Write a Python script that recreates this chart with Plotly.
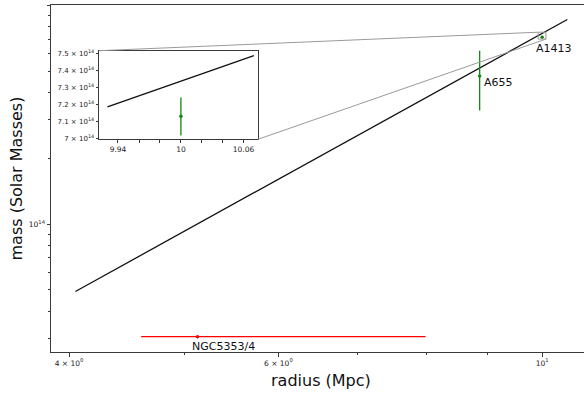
import math
import plotly.graph_objects as go

# ---------------- data ----------------
model_r = [4.05, 10.5]               # Mpc
model_m = [4.92e13, 8.6e14]          # solar masses
inset_model_r = [9.93, 10.07]
inset_model_m = [7.185e14, 7.49e14]

cluster_names = ["A1413", "A655", "NGC5353/4"]
cluster_r = [10.0, 8.86, 5.13]
cluster_m = [7.13e14, 4.74e14, 3.06e13]
cluster_m_err = [1.1e13, 1.44e14, 0.0]
cluster_r_err_plus = [0.0, 0.0, 2.85]
cluster_r_err_minus = [0.0, 0.0, 0.53]
cluster_colors = ["#108a10", "#108a10", "#ff0000"]

x_tick_vals = [4, 6, 10]
x_tick_text = ["4 × 10<sup>0</sup>", "6 × 10<sup>0</sup>", "10<sup>1</sup>"]
x_minor_vals = [5, 7, 8, 9]
y_tick_vals = [1e14, 1e15]
y_tick_text = ["10<sup>14</sup>", "10<sup>15</sup>"]
y_minor_vals = [3e13, 4e13, 5e13, 6e13, 7e13, 8e13, 9e13,
                2e14, 3e14, 4e14, 5e14, 6e14, 7e14, 8e14, 9e14]

inset_x_tick_vals = [9.94, 10.0, 10.06]
inset_x_tick_text = ["9.94", "10", "10.06"]
inset_x_minor_vals = [9.96, 9.98, 10.02, 10.04]
inset_y_tick_vals = [7.0e14, 7.1e14, 7.2e14, 7.3e14, 7.4e14, 7.5e14]
inset_y_tick_text = ["7 × 10<sup>14</sup>", "7.1 × 10<sup>14</sup>", "7.2 × 10<sup>14</sup>",
                     "7.3 × 10<sup>14</sup>", "7.4 × 10<sup>14</sup>", "7.5 × 10<sup>14</sup>"]

# ---------------- layout constants ----------------
W, H = 584, 394
ML, MR, MT, MB = 51, 0, 5, 42
main_xrange = [0.58692, 1.03520]      # log10
main_yrange = [13.4155, 15.0005]      # log10
zoom_r = [9.922, 10.074]
zoom_m = [6.998e14, 7.52e14]
inset_xdom = [0.0901, 0.3884]
inset_ydom = [0.613, 0.8683]

AX = "#3a3a3a"
FONT = "DejaVu Sans"

fig = go.Figure()

# main model line
fig.add_trace(go.Scatter(x=model_r, y=model_m, mode="lines",
                         line=dict(color="#111111", width=1.3),
                         xaxis="x", yaxis="y", showlegend=False))

# clusters on main axes
for i in range(len(cluster_names)):
    tr = dict(x=[cluster_r[i]], y=[cluster_m[i]], mode="markers",
              marker=dict(color=cluster_colors[i], size=3.5),
              xaxis="x", yaxis="y", showlegend=False)
    if cluster_m_err[i] > 0:
        tr["error_y"] = dict(type="data", array=[cluster_m_err[i]], color=cluster_colors[i],
                             thickness=1.3, width=0)
    if cluster_r_err_plus[i] > 0:
        tr["error_x"] = dict(type="data", symmetric=False, array=[cluster_r_err_plus[i]],
                             arrayminus=[cluster_r_err_minus[i]], color=cluster_colors[i],
                             thickness=1.3, width=0)
    fig.add_trace(go.Scatter(**tr))

# zoom indicator rectangle on main axes
fig.add_trace(go.Scatter(x=[zoom_r[0], zoom_r[1], zoom_r[1], zoom_r[0], zoom_r[0]],
                         y=[zoom_m[0], zoom_m[0], zoom_m[1], zoom_m[1], zoom_m[0]],
                         mode="lines", line=dict(color="#9a9a9a", width=1),
                         xaxis="x", yaxis="y", showlegend=False, hoverinfo="skip"))

# inset traces
fig.add_trace(go.Scatter(x=inset_model_r, y=inset_model_m, mode="lines",
                         line=dict(color="#111111", width=1.3),
                         xaxis="x2", yaxis="y2", showlegend=False))
fig.add_trace(go.Scatter(x=[cluster_r[0]], y=[cluster_m[0]], mode="markers",
                         marker=dict(color=cluster_colors[0], size=3.5),
                         error_y=dict(type="data", array=[cluster_m_err[0]], color=cluster_colors[0],
                                      thickness=1.3, width=0),
                         xaxis="x2", yaxis="y2", showlegend=False))


def px_x(r):
    return (math.log10(r) - main_xrange[0]) / (main_xrange[1] - main_xrange[0])


def px_y(m):
    return (math.log10(m) - main_yrange[0]) / (main_yrange[1] - main_yrange[0])


# connector lines (inset corners -> zoom box corners)
shapes = [
    dict(type="line", xref="paper", yref="paper",
         x0=inset_xdom[0], y0=inset_ydom[1], x1=px_x(zoom_r[0]), y1=px_y(zoom_m[1]),
         line=dict(color="#9a9a9a", width=1)),
    dict(type="line", xref="paper", yref="paper",
         x0=inset_xdom[1], y0=inset_ydom[0], x1=px_x(zoom_r[1]), y1=px_y(zoom_m[0]),
         line=dict(color="#9a9a9a", width=1)),
]

# point labels
label_shift = [(12, -11), (19, -6), (26, -10)]
annotations = []
for i, name in enumerate(cluster_names):
    annotations.append(dict(x=math.log10(cluster_r[i]), y=math.log10(cluster_m[i]),
                            xref="x", yref="y", text=name, showarrow=False,
                            xanchor="center", yanchor="middle",
                            xshift=label_shift[i][0], yshift=label_shift[i][1],
                            font=dict(family=FONT, size=11, color="#111111")))

pw = W - ML - MR
ph = H - MT - MB
annotations.append(dict(x=(320.5 - ML) / pw, y=(MT + ph - 381) / ph, xref="paper", yref="paper",
                        text="radius (Mpc)", showarrow=False, xanchor="center", yanchor="middle",
                        font=dict(family=FONT, size=16, color="#111111")))
annotations.append(dict(x=(16 - ML) / pw, y=0.5, xref="paper", yref="paper",
                        text="mass (Solar Masses)", showarrow=False, textangle=-90,
                        xanchor="center", yanchor="middle",
                        font=dict(family=FONT, size=16, color="#111111")))

common = dict(showgrid=False, zeroline=False, showline=True, linecolor=AX, linewidth=1,
              ticks="outside", tickcolor=AX, tickwidth=1)

fig.update_layout(
    width=W, height=H,
    margin=dict(l=ML, r=MR, t=MT, b=MB, pad=0),
    paper_bgcolor="white", plot_bgcolor="white",
    font=dict(family=FONT, color="#222222"),
    showlegend=False,
    xaxis=dict(type="log", range=main_xrange, domain=[0, 1], anchor="y", mirror=True,
               tickmode="array", tickvals=x_tick_vals, ticktext=x_tick_text, ticklen=3.5,
               tickfont=dict(size=7.5, family=FONT, color="#222222"),
               minor=dict(tickmode="array", tickvals=x_minor_vals, ticks="outside", ticklen=2,
                          tickcolor=AX, tickwidth=1, showgrid=False),
               **common),
    yaxis=dict(type="log", range=main_yrange, domain=[0, 1], anchor="x", mirror=False,
               tickmode="array", tickvals=y_tick_vals, ticktext=y_tick_text, ticklen=3.5,
               tickfont=dict(size=7.5, family=FONT, color="#222222"),
               minor=dict(tickmode="array", tickvals=y_minor_vals, ticks="outside", ticklen=2,
                          tickcolor=AX, tickwidth=1, showgrid=False),
               **common),
    xaxis2=dict(type="log", range=[math.log10(zoom_r[0]), math.log10(zoom_r[1])],
                domain=inset_xdom, anchor="y2", mirror=True,
                tickmode="array", tickvals=inset_x_tick_vals, ticktext=inset_x_tick_text, ticklen=2.5,
                tickfont=dict(size=7.5, family=FONT, color="#222222"),
                minor=dict(tickmode="array", tickvals=inset_x_minor_vals, ticks="outside", ticklen=2.5,
                           tickcolor=AX, tickwidth=1, showgrid=False),
                **common),
    yaxis2=dict(type="log", range=[math.log10(zoom_m[0]), math.log10(zoom_m[1])],
                domain=inset_ydom, anchor="x2", mirror=True,
                tickmode="array", tickvals=inset_y_tick_vals, ticktext=inset_y_tick_text, ticklen=2.5,
                tickfont=dict(size=7, family=FONT, color="#222222"),
                **common),
    shapes=shapes,
    annotations=annotations,
)

fig.write_html("out.html",
               config={"displayModeBar": False, "staticPlot": True},
               post_script="document.body.style.margin='0';document.body.style.overflow='hidden';")
